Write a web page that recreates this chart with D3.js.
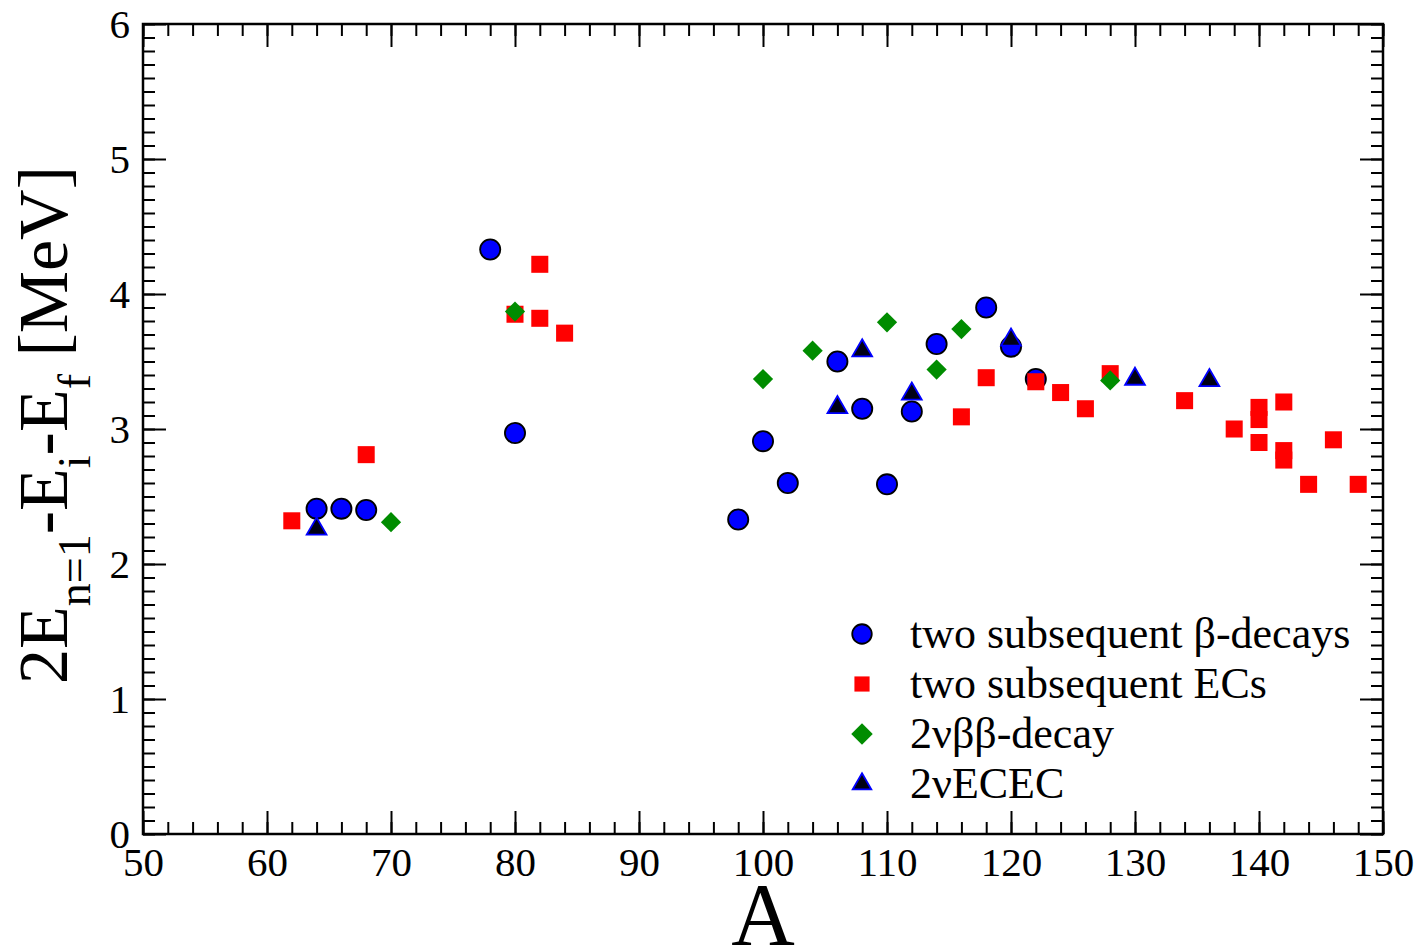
<!DOCTYPE html>
<html>
<head>
<meta charset="utf-8">
<script src="https://cdn.jsdelivr.net/npm/d3@7"></script>
<style>
    body { margin: 0; background: #fff; }
    svg { display: block; font-family: "Liberation Serif", "Times New Roman", serif; }
    .axis path { display: none; }
    .axis line { stroke: #000; stroke-width: 2; }
</style>
</head>
<body>
<svg id="chart"></svg>
<script>
(function() {
    'use strict';

    // two subsequent beta-decays
    var betaA = [64, 66, 68, 78, 80, 98, 100, 102, 106, 108, 110, 112, 114, 118, 120, 122];
    var betaE = [2.41, 2.41, 2.40, 4.33, 2.97, 2.33, 2.91, 2.60, 3.50, 3.15, 2.59, 3.13, 3.63, 3.90, 3.61, 3.37];

    // two subsequent ECs
    var ecA = [62, 68, 80, 82, 82, 84, 116, 118, 122, 124, 126, 128, 134, 138, 140, 140, 140, 142, 142, 142, 144, 146, 148];
    var ecE = [2.32, 2.81, 3.85, 4.22, 3.82, 3.71, 3.09, 3.38, 3.35, 3.27, 3.15, 3.41, 3.21, 3.00, 3.16, 3.07, 2.90, 3.20, 2.84, 2.77, 2.59, 2.92, 2.59];

    // 2nu beta-beta decay
    var bbA = [70, 80, 100, 104, 110, 114, 116, 128];
    var bbE = [2.31, 3.87, 3.37, 3.58, 3.79, 3.44, 3.74, 3.36];

    // 2nu ECEC
    var ececA = [64, 106, 108, 112, 120, 130, 136];
    var ececE = [2.26, 3.16, 3.58, 3.26, 3.66, 3.37, 3.36];

    var legendLabels = ['two subsequent \u03b2-decays', 'two subsequent ECs', '2\u03bd\u03b2\u03b2-decay', '2\u03bdECEC'];

    var xMajor = d3.range(50, 151, 10),
        xMinor = d3.range(50, 151, 2),
        yMajor = d3.range(0, 7, 1),
        yMinor = d3.range(0, 60.5, 1).map(function(d) { return d / 10; });

    var W = 1424, H = 950,
        margin = {top: 24, right: 41, bottom: 116, left: 143},
        width = W - margin.left - margin.right,
        height = H - margin.top - margin.bottom;

    var svg = d3.select('#chart').attr('width', W).attr('height', H);
    var g = svg.append('g')
        .attr('transform', 'translate(' + margin.left + ',' + margin.top + ')');

    var x = d3.scaleLinear().domain([50, 150]).range([0, width]);
    var y = d3.scaleLinear().domain([0, 6]).range([height, 0]);

    // ticks on all four sides, pointing inward
    function addAxis(axisFn, scale, vals, size, labels, transform) {
        var ax = axisFn(scale).tickValues(vals).tickSize(-size).tickSizeOuter(0);
        if (labels) ax.tickPadding(13).tickFormat(d3.format('d'));
        else ax.tickFormat('');
        g.append('g').attr('class', 'axis')
            .attr('transform', transform || null)
            .call(ax)
            .attr('font-family', '"Liberation Serif", serif')
            .attr('font-size', 41);
    }
    addAxis(d3.axisBottom, x, xMinor, 12, false, 'translate(0,' + height + ')');
    addAxis(d3.axisBottom, x, xMajor, 23, true, 'translate(0,' + height + ')');
    addAxis(d3.axisTop, x, xMinor, 12, false);
    addAxis(d3.axisTop, x, xMajor, 23, false);
    addAxis(d3.axisLeft, y, yMinor, 12, false);
    addAxis(d3.axisLeft, y, yMajor, 23, true);
    addAxis(d3.axisRight, y, yMinor, 12, false, 'translate(' + width + ',0)');
    addAxis(d3.axisRight, y, yMajor, 23, false, 'translate(' + width + ',0)');

    g.append('rect')
        .attr('width', width).attr('height', height)
        .attr('fill', 'none').attr('stroke', '#000').attr('stroke-width', 2.5);

    // series styles
    var styles = [
        {type: d3.symbolCircle, size: 320, fill: '#0000ff', stroke: '#000', sw: 1.8, rot: 0},
        {type: d3.symbolSquare, size: 290, fill: '#ff0000', stroke: 'none', sw: 0, rot: 0},
        {type: d3.symbolSquare, size: 205, fill: '#008c00', stroke: 'none', sw: 0, rot: 45},
        {type: d3.symbolTriangle, size: 170, fill: '#000014', stroke: '#0000ff', sw: 1.8, rot: 0}
    ];
    var series = [
        d3.zip(betaA, betaE),
        d3.zip(ecA, ecE),
        d3.zip(bbA, bbE),
        d3.zip(ececA, ececE)
    ];

    series.forEach(function(pts, i) {
        var s = styles[i];
        g.append('g').selectAll('path')
            .data(pts)
            .enter().append('path')
            .attr('d', d3.symbol().type(s.type).size(s.size))
            .attr('transform', function(d) {
                return 'translate(' + x(d[0]) + ',' + y(d[1]) + ') rotate(' + s.rot + ')';
            })
            .attr('fill', s.fill)
            .attr('stroke', s.stroke)
            .attr('stroke-width', s.sw);
    });

    // legend
    var legend = svg.append('g').attr('transform', 'translate(862,634)');
    var legendSizes = [300, 230, 230, 150];
    legendLabels.forEach(function(lab, i) {
        var s = styles[i];
        var row = legend.append('g').attr('transform', 'translate(0,' + (i * 50) + ')');
        row.append('path')
            .attr('d', d3.symbol().type(s.type).size(legendSizes[i]))
            .attr('transform', 'rotate(' + s.rot + ')')
            .attr('fill', s.fill)
            .attr('stroke', s.stroke)
            .attr('stroke-width', s.sw);
        row.append('text')
            .attr('x', 48)
            .attr('y', 14)
            .attr('font-size', 44)
            .text(lab);
    });

    // axis titles
    svg.append('text')
        .attr('x', margin.left + width / 2)
        .attr('y', 944)
        .attr('text-anchor', 'middle')
        .attr('font-size', 88)
        .text('A');

    var yt = svg.append('text')
        .attr('transform', 'translate(67,425) rotate(-90)')
        .attr('text-anchor', 'middle')
        .attr('font-size', 70);
    yt.append('tspan').text('2E');
    yt.append('tspan').attr('font-size', 46).attr('dy', 23).text('n=1');
    yt.append('tspan').attr('dy', -23).text('-E');
    yt.append('tspan').attr('font-size', 46).attr('dy', 23).text('i');
    yt.append('tspan').attr('dy', -23).text('-E');
    yt.append('tspan').attr('font-size', 46).attr('dy', 23).text('f');
    yt.append('tspan').attr('dy', -23).text(' [MeV]');
})();
</script>
</body>
</html>
